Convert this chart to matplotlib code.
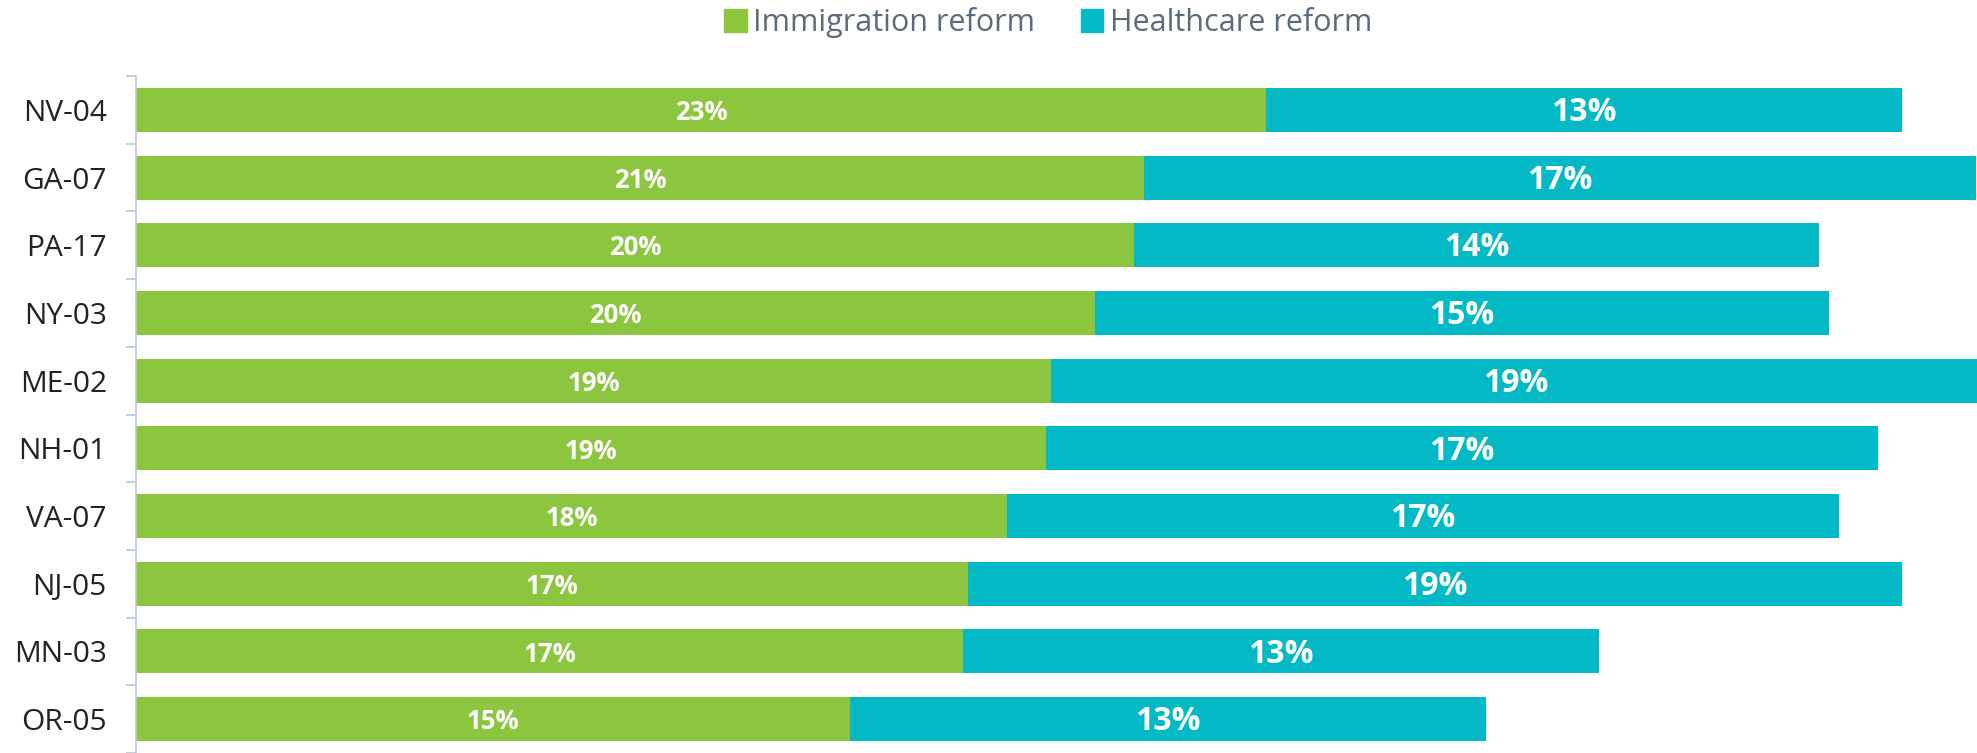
import matplotlib.pyplot as plt
from matplotlib.patches import Patch

districts = ["NV-04", "GA-07", "PA-17", "NY-03", "ME-02", "NH-01", "VA-07", "NJ-05", "MN-03", "OR-05"]
immigration = [23.1, 20.6, 20.4, 19.6, 18.7, 18.6, 17.8, 17.0, 16.9, 14.6]
healthcare = [13.0, 17.0, 14.0, 15.0, 19.0, 17.0, 17.0, 19.1, 13.0, 13.0]
series_names = ["Immigration reform", "Healthcare reform"]

green = "#8cc63f"
cyan = "#03b9c5"
font = ["Open Sans", "DejaVu Sans"]
plt.rcParams['font.family'] = font

fig = plt.figure(figsize=(19.77, 7.53), dpi=100)
ax = fig.add_axes([0.0688, 0.0, 0.9312, 0.899])

y = list(range(len(districts)))
ax.barh(y, immigration, height=0.65, color=green)
ax.barh(y, healthcare, left=immigration, height=0.65, color=cyan)

for i in y:
    a = immigration[i]
    b = healthcare[i]
    ax.text(a / 2, i + 0.04, "%d%%" % round(a), ha="center", va="center",
            color="white", fontsize=18.5, fontweight="bold")
    ax.text(a + b / 2, i + 0.04, "%d%%" % round(b), ha="center", va="center",
            color="white", fontsize=23, fontweight="bold")

ax.set_ylim(len(districts) - 0.5, -0.5)
ax.set_xlim(0, 37.63)
ax.set_yticks(y)
ax.set_yticklabels(districts, fontsize=21.5, color="#222222")
ax.tick_params(axis="y", which="major", length=0, pad=21)
ax.set_yticks([k + 0.5 for k in range(-1, len(districts))], minor=True)
ax.tick_params(axis="y", which="minor", length=7, color="#b8c7d6", width=1.2)
ax.set_xticks([])
for s in ["top", "right", "bottom"]:
    ax.spines[s].set_visible(False)
ax.spines["left"].set_color("#b8c7d6")
ax.spines["left"].set_linewidth(1.2)

handles = [Patch(color=green), Patch(color=cyan)]
leg = fig.legend(handles, series_names, loc="center", bbox_to_anchor=(0.53, 0.97),
                 ncol=2, frameon=False, fontsize=22, handlelength=0.75, handleheight=0.75,
                 handletextpad=0.2, columnspacing=1.5)
for t in leg.get_texts():
    t.set_color("#5b6b7c")

fig.savefig("out.png", dpi=100)
